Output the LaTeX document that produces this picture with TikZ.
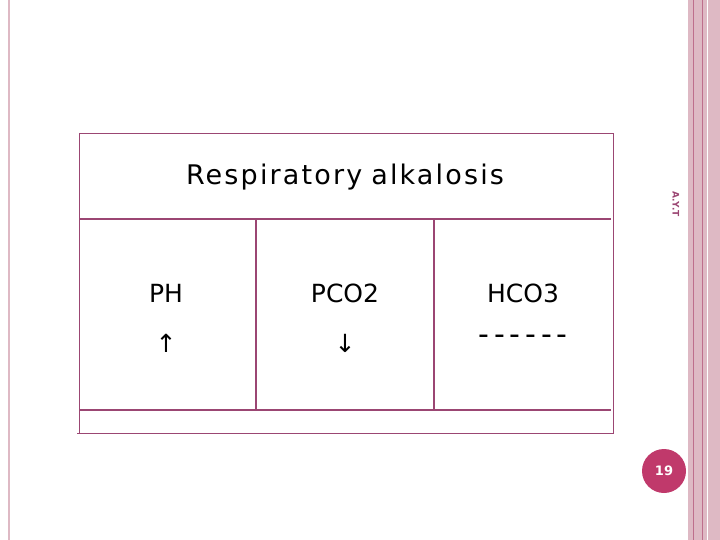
\documentclass[tikz,border=0pt]{standalone}
\usepackage{fontspec}
\setmainfont{DejaVu Sans}[Ligatures=NoCommon]
\definecolor{rulecolor}{RGB}{155, 70, 115}
\definecolor{stripecolor}{RGB}{222, 185, 196}
\definecolor{stripedark}{RGB}{190, 110, 140}
\definecolor{badgecolor}{RGB}{192, 57, 107}
\begin{document}
\begin{tikzpicture}[
    x=1pt, y=-1pt,
    thin rule/.style={draw=rulecolor, line width=0.8pt},
    thick rule/.style={draw=rulecolor, line width=2.6pt},
    cell/.style={font=\fontsize{25}{30}\selectfont, align=center}
]
\useasboundingbox (0,0) rectangle (720,540);

% Page stripes
\fill[stripecolor] (688,0) rectangle (720,540);
\draw[stripedark, line width=0.8pt] (693,0) -- (693,540);
\draw[stripedark, line width=0.8pt] (702,0) -- (702,540);
\draw[white, line width=1pt] (707,0) -- (707,540);
\draw[stripecolor, line width=2pt] (9,0) -- (9,540);

% Table frame
\draw[thin rule] (79,133) -- (613,133) -- (613,433) -- (77,433);
\draw[thin rule] (79,133) -- (79,433);
\draw[thick rule] (79,219) -- (611,219);
\draw[thick rule] (79,410) -- (611,410);
\draw[thick rule] (256,219) -- (256,410);
\draw[thick rule] (434,219) -- (434,410);

% Texts
\node[font=\fontsize{27}{30}\selectfont, text width=360pt, align=center] (title) at (345,177) {\addfontfeature{LetterSpace=8}Respiratory alkalosis};
\node[cell] (ph) at (166,293) {PH};
\node[cell] (pharrow) at (166,343) {↑};
\node[cell] (pco) at (345,293) {PCO2};
\node[cell] (pcoarrow) at (345,343) {↓};
\node[cell] (hco) at (523,293) {HCO3};
\node[cell, font=\fontsize{30}{30}\selectfont] (hcodash) at (523,340) {\addfontfeature{LetterSpace=16}-{}-{}-{}-{}-{}-};

% Side mark and page number
\node[rotate=-90, font=\fontsize{9}{10}\selectfont\bfseries, text=rulecolor] (mark) at (676,204) {A.Y.T};
\node[circle, fill=badgecolor, minimum size=44pt, inner sep=0pt, text=white, font=\fontsize{13}{14}\selectfont\bfseries] (page) at (664,471) {19};
\end{tikzpicture}
\end{document}
